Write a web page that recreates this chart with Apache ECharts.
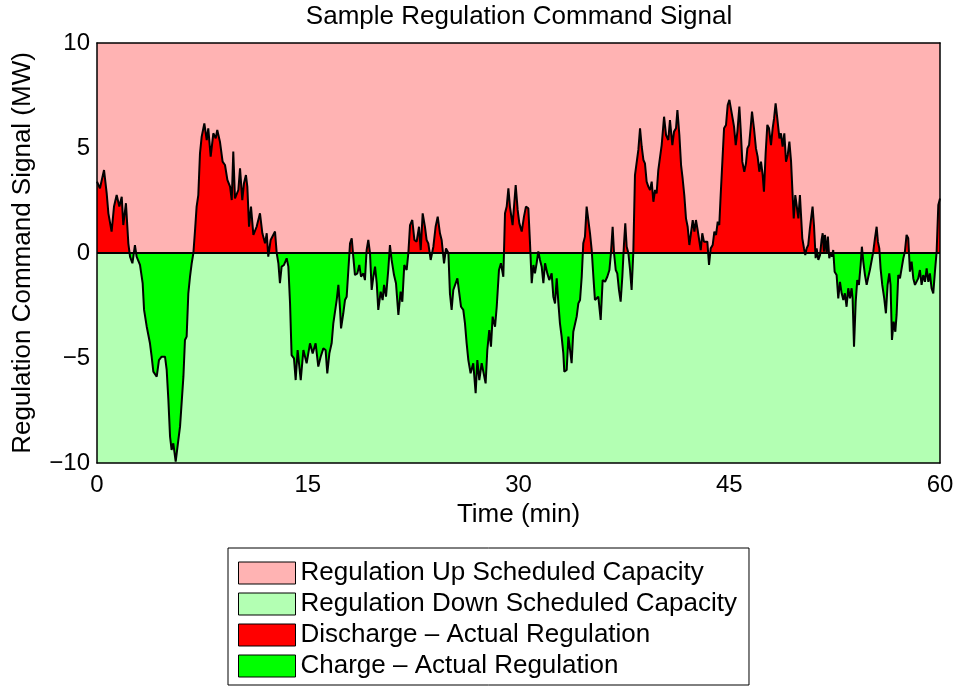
<!DOCTYPE html>
<html>
<head>
<meta charset="utf-8">
<script src="https://cdn.jsdelivr.net/npm/echarts@6/dist/echarts.min.js"></script>
<style>
  html, body { margin: 0; padding: 0; background: #ffffff; }
  #chart { width: 958px; height: 686px; }
</style>
</head>
<body>
<div id="chart"></div>
<script>
// ---- Data ----
const timeMin = [
  0, 0.21, 0.50, 0.69, 0.81, 1.04, 1.21, 1.40, 1.59, 1.76, 1.87, 2.06, 2.23, 2.35, 2.52, 2.70, 2.82, 3.06, 3.25, 3.35,
  3.54, 3.77, 3.89, 4.01, 4.25, 4.41, 4.60, 4.84, 4.96, 5.08, 5.20, 5.31, 5.43, 5.60, 5.79, 5.91, 6.15, 6.26, 6.38, 6.50,
  6.62, 6.74, 6.86, 6.98, 7.09, 7.21, 7.33, 7.45, 7.64, 7.81, 7.92, 8.09, 8.28, 8.45, 8.56, 8.75, 8.94, 9.11, 9.28, 9.47,
  9.59, 9.70, 9.82, 10.06, 10.18, 10.34, 10.46, 10.60, 10.70, 10.82, 10.96, 11.13, 11.36, 11.60, 11.77, 11.96, 12.08, 12.19, 12.36, 12.50,
  12.67, 12.79, 12.91, 13.02, 13.14, 13.31, 13.50, 13.62, 13.74, 13.85, 14.02, 14.14, 14.28, 14.50, 14.69, 14.92, 15.16, 15.35, 15.56, 15.75,
  15.92, 16.11, 16.27, 16.39, 16.54, 16.70, 16.82, 16.94, 17.06, 17.18, 17.30, 17.37, 17.53, 17.65, 17.77, 17.89, 18.01, 18.13, 18.24, 18.36,
  18.53, 18.67, 18.79, 18.96, 19.07, 19.19, 19.31, 19.43, 19.55, 19.67, 19.79, 19.91, 20.02, 20.19, 20.33, 20.43, 20.57, 20.73, 20.85, 20.97,
  21.14, 21.28, 21.45, 21.61, 21.73, 21.87, 22.04, 22.16, 22.28, 22.44, 22.59, 22.75, 22.92, 23.04, 23.18, 23.34, 23.46, 23.58, 23.75, 23.94,
  24.10, 24.25, 24.41, 24.53, 24.70, 24.84, 25.01, 25.12, 25.24, 25.36, 25.48, 25.65, 25.79, 25.91, 26.07, 26.19, 26.31, 26.43, 26.59, 26.78,
  26.95, 27.07, 27.21, 27.38, 27.50, 27.66, 27.78, 27.92, 28.04, 28.16, 28.33, 28.45, 28.61, 28.75, 28.92, 29.04, 29.16, 29.28, 29.39, 29.58,
  29.80, 29.94, 30.06, 30.23, 30.39, 30.53, 30.70, 30.82, 30.94, 31.06, 31.17, 31.29, 31.41, 31.53, 31.65, 31.77, 31.89, 32.05, 32.19, 32.36,
  32.48, 32.60, 32.72, 32.84, 32.95, 33.07, 33.19, 33.26, 33.43, 33.55, 33.67, 33.78, 33.90, 34.02, 34.14, 34.26, 34.38, 34.50, 34.61, 34.73,
  34.85, 34.97, 35.09, 35.21, 35.33, 35.44, 35.56, 35.68, 35.85, 35.99, 36.16, 36.32, 36.47, 36.58, 36.70, 36.80, 36.92, 37.03, 37.15, 37.27,
  37.39, 37.51, 37.60, 37.70, 37.82, 37.94, 38.05, 38.17, 38.29, 38.41, 38.53, 38.65, 38.77, 38.89, 39.00, 39.12, 39.24, 39.36, 39.48, 39.60,
  39.72, 39.83, 39.95, 40.19, 40.36, 40.50, 40.66, 40.78, 40.95, 41.07, 41.21, 41.31, 41.45, 41.57, 41.68, 41.80, 41.92, 42.04, 42.16, 42.28,
  42.40, 42.52, 42.63, 42.75, 42.87, 42.97, 43.08, 43.20, 43.32, 43.44, 43.56, 43.68, 43.82, 43.94, 44.06, 44.18, 44.29, 44.39, 44.51, 44.63,
  44.77, 44.89, 45.01, 45.13, 45.24, 45.34, 45.46, 45.58, 45.72, 45.81, 45.93, 46.07, 46.19, 46.29, 46.41, 46.52, 46.62, 46.76, 46.90, 47.02,
  47.14, 47.26, 47.38, 47.47, 47.59, 47.71, 47.83, 47.97, 48.09, 48.19, 48.30, 48.42, 48.57, 48.68, 48.80, 48.92, 49.04, 49.16, 49.28, 49.40,
  49.51, 49.59, 49.70, 49.82, 49.92, 50.03, 50.20, 50.32, 50.41, 50.51, 50.62, 50.74, 50.93, 51.03, 51.15, 51.22, 51.34, 51.46, 51.57, 51.65,
  51.74, 51.81, 51.93, 52.02, 52.12, 52.21, 52.31, 52.40, 52.50, 52.64, 52.76, 52.88, 53.00, 53.12, 53.23, 53.35, 53.47, 53.59, 53.71, 53.78,
  53.88, 54.00, 54.11, 54.23, 54.35, 54.44, 54.54, 54.66, 54.78, 54.90, 55.01, 55.13, 55.25, 55.37, 55.49, 55.58, 55.68, 55.77, 55.89, 56.03,
  56.15, 56.27, 56.39, 56.48, 56.58, 56.70, 56.82, 56.91, 57.03, 57.15, 57.27, 57.39, 57.50, 57.62, 57.74, 57.86, 57.98, 58.10, 58.22, 58.34,
  58.45, 58.57, 58.69, 58.81, 58.93, 59.05, 59.17, 59.28, 59.40, 59.52, 59.64, 59.76, 59.88, 60.00
];
const signalMW = [
  3.40, 3.08, 3.95, 2.84, 1.89, 1.02, 2.21, 2.76, 2.21, 2.68, 1.33, 2.37, 0.46, -0.17, -0.49, 0.38, -0.17, -0.57, -1.44, -2.71,
  -3.51, -4.30, -4.94, -5.65, -5.89, -5.10, -4.94, -4.94, -5.57, -7.00, -8.75, -9.38, -9.06, -9.94, -8.90, -8.27, -5.89, -4.14, -3.98, -1.92,
  -1.13, -0.49, 0.00, 1.10, 2.21, 2.76, 4.75, 5.54, 6.17, 5.38, 5.94, 4.59, 5.70, 5.46, 5.86, 5.30, 4.35, 4.19, 3.48, 3.16,
  2.52, 4.83, 2.60, 3.00, 4.03, 2.52, 3.32, 3.71, 3.16, 1.25, 2.21, 0.86, 1.25, 1.89, 0.94, 0.46, 0.94, -0.17, 0.62, 0.70,
  1.02, 0.00, -0.49, -1.44, -0.65, -0.57, -0.25, -0.65, -2.40, -4.86, -5.02, -6.05, -4.62, -6.05, -4.62, -5.25, -4.30, -4.78, -4.30, -5.41,
  -4.94, -4.54, -4.62, -5.73, -4.78, -4.30, -3.35, -3.35, -2.24, -1.52, -2.71, -3.59, -2.87, -2.24, -2.08, -0.81, 0.46, 0.70, -0.17, -1.05,
  -0.97, -0.57, -1.13, -0.97, -1.29, 0.14, 0.62, 0.00, -1.76, -1.13, -0.65, -1.44, -2.71, -1.84, -2.24, -1.52, -2.08, -0.81, 0.38, -0.33,
  -1.05, -1.44, -2.95, -1.84, -2.32, -0.57, -0.81, 0.00, 1.33, 1.57, 0.62, 0.54, 1.25, 0.14, 1.89, 1.25, 0.62, 0.46, -0.33, 0.30,
  1.25, 1.73, 0.94, 0.62, -0.49, 0.22, 0.00, -1.92, -2.71, -1.76, -1.68, -1.21, -1.29, -2.56, -2.71, -3.35, -4.30, -5.10, -5.73, -5.25,
  -6.68, -5.10, -6.05, -5.25, -5.25, -6.21, -4.62, -3.67, -4.46, -3.03, -3.51, -2.56, -0.81, -0.49, -1.13, 1.89, 2.21, 3.08, 2.21, 1.33,
  3.24, 2.05, 1.41, 1.02, 1.73, 2.21, 2.13, 0.46, -1.44, -0.57, -0.97, -0.49, 0.08, -0.33, -0.65, -1.44, -0.49, -0.97, -1.29, -0.97,
  -2.08, -2.40, -1.21, -2.40, -3.35, -3.98, -4.78, -5.65, -5.57, -3.98, -4.62, -5.25, -3.75, -3.67, -3.03, -2.40, -2.24, -1.13, 0.46, 0.78,
  2.21, 1.57, 0.94, 0.14, -1.13, -2.24, -2.32, -2.08, -3.19, -1.29, -1.37, -1.13, -0.81, 0.00, 1.25, 0.00, -0.81, -0.97, -1.76, -2.32,
  -1.13, 0.46, 1.41, 0.30, 0.00, -0.81, -1.76, 0.00, 3.71, 3.79, 4.91, 5.94, 5.06, 4.43, 4.27, 3.40, 3.16, 3.00, 3.40, 2.44,
  3.00, 2.84, 3.95, 5.14, 6.49, 5.62, 5.38, 6.33, 5.14, 5.78, 5.94, 6.81, 5.62, 4.19, 3.56, 2.76, 1.65, 1.25, 0.38, 0.46,
  1.57, 1.02, 1.57, 1.10, 1.02, 0.14, 0.94, 0.54, 0.62, 0.54, -0.57, 0.22, 0.38, 1.02, 0.86, 1.49, 1.33, 2.76, 4.35, 5.94,
  6.10, 7.05, 7.29, 7.37, 6.41, 6.02, 5.14, 5.78, 6.97, 5.94, 4.35, 3.87, 4.27, 4.98, 5.14, 5.94, 6.73, 5.94, 4.98, 4.59,
  3.87, 4.35, 3.71, 2.92, 4.75, 6.10, 5.94, 5.14, 5.94, 6.41, 7.13, 6.41, 5.46, 5.70, 5.06, 5.70, 4.35, 4.67, 5.30, 4.35,
  2.76, 1.65, 2.76, 2.76, 1.65, 2.76, 0.70, 0.22, -0.10, 0.22, 0.38, 1.17, 2.21, 1.33, -0.25, 0.22, -0.33, -0.10, 0.62, 0.94,
  0.06, 0.86, 0.00, 0.78, -0.25, 0.00, -0.17, 0.14, -0.89, -1.05, -2.16, -1.37, -1.92, -2.24, -1.92, -2.56, -1.68, -2.16, -1.68, -2.16,
  -4.46, -2.32, -1.29, -1.52, -0.57, 0.30, -0.41, -1.05, -1.52, -1.13, -0.81, -0.73, 0.06, 0.70, 1.25, 0.54, 0.22, -0.73, -1.52, -2.16,
  -2.87, -1.52, -0.97, -1.52, -4.14, -3.27, -3.75, -2.95, -1.05, -1.21, -1.21, -0.25, 0.06, 0.86, 0.70, -0.89, -0.41, -1.21, -1.52, -1.44,
  -1.21, -0.81, -1.52, -1.05, -1.37, -0.73, -1.37, -0.97, -1.68, -1.92, -0.89, 0.06, 2.29, 2.60
];
const capacityTime = [0, 60];
const regUpCapacity = [10, 10];
const regDownCapacity = [-10, -10];
const xTicks = [0, 15, 30, 45, 60];
const yTicks = [-10, -5, 0, 5, 10];
const seriesNames = [
  'Regulation Up Scheduled Capacity',
  'Regulation Down Scheduled Capacity',
  'Discharge \u2013 Actual Regulation',
  'Charge \u2013 Actual Regulation'
];
const seriesColors = ['#ffb3b3', '#b3ffb3', '#ff0000', '#00ff00'];

// ---- Build chart ----
const FONT = '"Liberation Sans", Arial, Helvetica, sans-serif';
const zip = (xs, ys) => xs.map((x, i) => [x, ys[i]]);
const signal = zip(timeMin, signalMW);
const minusFmt = v => String(v).replace('-', '\u2212');
const yMin = yTicks[0], yMax = yTicks[yTicks.length - 1];

const chart = echarts.init(document.getElementById('chart'), null, { renderer: 'canvas' });

const legendDummies = seriesNames.map((n, i) => ({
  name: n, type: 'bar', data: [], xAxisIndex: 0, yAxisIndex: 0,
  itemStyle: { color: seriesColors[i], borderColor: '#000', borderWidth: 1 }
}));

const option = {
  animation: false,
  backgroundColor: '#ffffff',
  textStyle: { fontFamily: FONT },
  title: {
    text: 'Sample Regulation Command Signal',
    left: 519, top: 4, padding: 0, textAlign: 'center',
    textStyle: { fontFamily: FONT, fontSize: 26, fontWeight: 'normal', color: '#000' }
  },
  grid: { left: 97, right: 18, top: 43, bottom: 223, containLabel: false },
  legend: {
    orient: 'vertical', left: 228, top: 548, height: 130,
    padding: [12, 12, 6, 10],
    itemWidth: 57, itemHeight: 22, itemGap: 5,
    icon: 'rect',
    borderColor: '#000', borderWidth: 1, backgroundColor: '#fff',
    selectedMode: false,
    textStyle: { fontFamily: FONT, fontSize: 26, color: '#000' },
    data: seriesNames.map((n, i) => ({ name: n, itemStyle: { color: seriesColors[i], borderColor: '#000', borderWidth: 1 } }))
  },
  xAxis: [
    {
      type: 'value', min: xTicks[0], max: xTicks[xTicks.length - 1], interval: xTicks[1] - xTicks[0],
      position: 'bottom', z: 10,
      name: 'Time (min)', nameLocation: 'middle', nameGap: 34,
      nameTextStyle: { fontFamily: FONT, fontSize: 26, color: '#000' },
      axisLine: { show: true, onZero: false, lineStyle: { color: '#000', width: 1.5 } },
      axisTick: { show: false },
      axisLabel: { fontFamily: FONT, fontSize: 24, color: '#000', margin: 10 },
      splitLine: { show: false }
    },
    {
      type: 'value', min: xTicks[0], max: xTicks[xTicks.length - 1], interval: xTicks[1] - xTicks[0],
      position: 'top', z: 10,
      axisLine: { show: true, onZero: false, lineStyle: { color: '#000', width: 1.5 } },
      axisTick: { show: false }, axisLabel: { show: false }, splitLine: { show: false }
    }
  ],
  yAxis: [
    {
      type: 'value', min: yMin, max: yMax, interval: yTicks[1] - yTicks[0],
      position: 'left', z: 10,
      name: 'Regulation Command Signal (MW)', nameLocation: 'middle', nameGap: 61,
      nameTextStyle: { fontFamily: FONT, fontSize: 26, color: '#000' },
      axisLine: { show: true, onZero: false, lineStyle: { color: '#000', width: 1.5 } },
      axisTick: { show: false },
      axisLabel: { fontFamily: FONT, fontSize: 24, color: '#000', margin: 7, formatter: minusFmt },
      splitLine: { show: false }
    },
    {
      type: 'value', min: yMin, max: yMax, interval: yTicks[1] - yTicks[0],
      position: 'right', z: 10,
      axisLine: { show: true, onZero: false, lineStyle: { color: '#000', width: 1.5 } },
      axisTick: { show: false }, axisLabel: { show: false }, splitLine: { show: false }
    }
  ],
  visualMap: [
    {
      type: 'piecewise', show: false, dimension: 1, seriesIndex: 6,
      pieces: [
        { gte: 0, lte: yMax * 2, color: '#ff0000' },
        { gte: yMin * 2, lt: 0, color: 'rgba(255,0,0,0)' }
      ]
    },
    {
      type: 'piecewise', show: false, dimension: 1, seriesIndex: 7,
      pieces: [
        { gte: yMin * 2, lt: 0, color: '#00ff00' },
        { gte: 0, lte: yMax * 2, color: 'rgba(0,255,0,0)' }
      ]
    }
  ],
  series: [
    ...legendDummies,
    {
      name: seriesNames[0], type: 'line', z: 1, silent: true,
      data: zip(capacityTime, regUpCapacity), symbol: 'none',
      lineStyle: { width: 0 },
      areaStyle: { color: seriesColors[0], opacity: 1, origin: 0 }
    },
    {
      name: seriesNames[1], type: 'line', z: 1, silent: true,
      data: zip(capacityTime, regDownCapacity), symbol: 'none',
      lineStyle: { width: 0 },
      areaStyle: { color: seriesColors[1], opacity: 1, origin: 0 }
    },
    {
      name: seriesNames[2], type: 'line', z: 2, silent: true,
      data: signal, symbol: 'none',
      lineStyle: { width: 0, opacity: 0 },
      areaStyle: { opacity: 1, origin: 0 }
    },
    {
      name: seriesNames[3], type: 'line', z: 2, silent: true,
      data: signal, symbol: 'none',
      lineStyle: { width: 0, opacity: 0 },
      areaStyle: { opacity: 1, origin: 0 }
    },
    {
      name: 'signal', type: 'line', z: 4, silent: true,
      data: signal, symbol: 'none',
      lineStyle: { color: '#000', width: 2 },
      markLine: {
        silent: true, symbol: 'none', label: { show: false },
        lineStyle: { color: '#000', width: 2.2, type: 'solid' },
        data: [{ yAxis: 0 }]
      }
    }
  ]
};
chart.setOption(option);
</script>
</body>
</html>
